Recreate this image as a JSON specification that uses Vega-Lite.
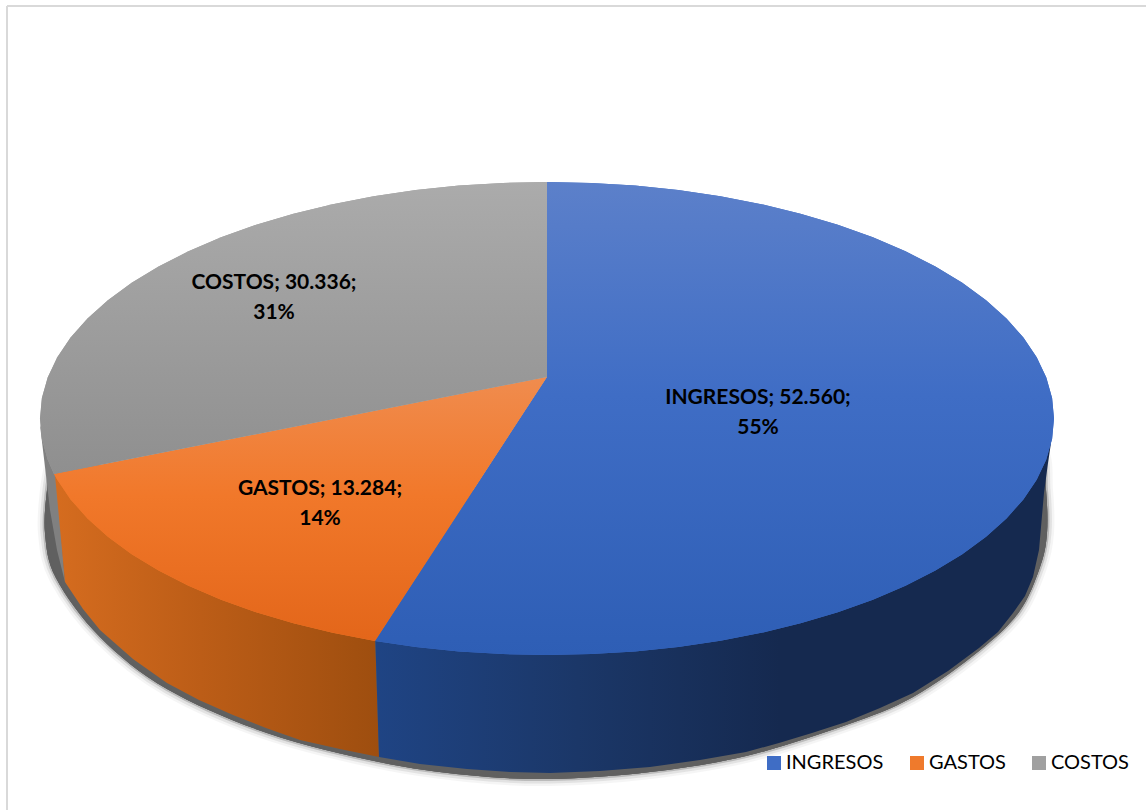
{"$schema":"https://vega.github.io/schema/vega-lite/v6.json","width":1146,"height":810,"padding":0,"autosize":{"type":"none"},"background":"white","config":{"view":{"stroke":null}},
"datasets":{
"cara":[
{"categoria":"INGRESOS","orden":1,"x":547,"y":377},{"categoria":"INGRESOS","orden":2,"x":547,"y":182},{"categoria":"INGRESOS","orden":3,"x":591.2,"y":182.9},{"categoria":"INGRESOS","orden":4,"x":635,"y":185.6},{"categoria":"INGRESOS","orden":5,"x":678.2,"y":190.1},{"categoria":"INGRESOS","orden":6,"x":720.4,"y":196.3},{"categoria":"INGRESOS","orden":7,"x":761.3,"y":204.2},{"categoria":"INGRESOS","orden":8,"x":800.5,"y":213.7},{"categoria":"INGRESOS","orden":9,"x":837.8,"y":224.8},{"categoria":"INGRESOS","orden":10,"x":872.9,"y":237.3},{"categoria":"INGRESOS","orden":11,"x":905.5,"y":251.3},{"categoria":"INGRESOS","orden":12,"x":935.4,"y":266.5},{"categoria":"INGRESOS","orden":13,"x":962.3,"y":282.8},{"categoria":"INGRESOS","orden":14,"x":986.1,"y":300.2},{"categoria":"INGRESOS","orden":15,"x":1006.5,"y":318.6},{"categoria":"INGRESOS","orden":16,"x":1023.4,"y":337.6},{"categoria":"INGRESOS","orden":17,"x":1036.7,"y":357.3},{"categoria":"INGRESOS","orden":18,"x":1046.3,"y":377.4},{"categoria":"INGRESOS","orden":19,"x":1052.1,"y":397.9},{"categoria":"INGRESOS","orden":20,"x":1054,"y":418.5},{"categoria":"INGRESOS","orden":21,"x":1052.1,"y":439.1},{"categoria":"INGRESOS","orden":22,"x":1046.3,"y":459.6},{"categoria":"INGRESOS","orden":23,"x":1036.7,"y":479.7},{"categoria":"INGRESOS","orden":24,"x":1023.4,"y":499.4},{"categoria":"INGRESOS","orden":25,"x":1006.5,"y":518.4},{"categoria":"INGRESOS","orden":26,"x":986.1,"y":536.8},{"categoria":"INGRESOS","orden":27,"x":962.3,"y":554.2},{"categoria":"INGRESOS","orden":28,"x":935.4,"y":570.5},{"categoria":"INGRESOS","orden":29,"x":905.5,"y":585.7},{"categoria":"INGRESOS","orden":30,"x":872.9,"y":599.7},{"categoria":"INGRESOS","orden":31,"x":837.8,"y":612.2},{"categoria":"INGRESOS","orden":32,"x":800.5,"y":623.3},{"categoria":"INGRESOS","orden":33,"x":761.3,"y":632.8},{"categoria":"INGRESOS","orden":34,"x":720.4,"y":640.7},{"categoria":"INGRESOS","orden":35,"x":678.2,"y":646.9},{"categoria":"INGRESOS","orden":36,"x":635,"y":651.4},{"categoria":"INGRESOS","orden":37,"x":591.2,"y":654.1},{"categoria":"INGRESOS","orden":38,"x":547,"y":655},{"categoria":"INGRESOS","orden":39,"x":502.8,"y":654.1},{"categoria":"INGRESOS","orden":40,"x":459,"y":651.4},{"categoria":"INGRESOS","orden":41,"x":415.8,"y":646.9},{"categoria":"INGRESOS","orden":42,"x":375,"y":641},
{"categoria":"GASTOS","orden":1,"x":547,"y":377},{"categoria":"GASTOS","orden":2,"x":375,"y":641},{"categoria":"GASTOS","orden":3,"x":332.7,"y":632.8},{"categoria":"GASTOS","orden":4,"x":293.5,"y":623.3},{"categoria":"GASTOS","orden":5,"x":256.2,"y":612.2},{"categoria":"GASTOS","orden":6,"x":221.1,"y":599.7},{"categoria":"GASTOS","orden":7,"x":188.5,"y":585.7},{"categoria":"GASTOS","orden":8,"x":158.6,"y":570.5},{"categoria":"GASTOS","orden":9,"x":131.7,"y":554.2},{"categoria":"GASTOS","orden":10,"x":107.9,"y":536.8},{"categoria":"GASTOS","orden":11,"x":87.5,"y":518.4},{"categoria":"GASTOS","orden":12,"x":70.6,"y":499.4},{"categoria":"GASTOS","orden":13,"x":57.3,"y":479.7},{"categoria":"GASTOS","orden":14,"x":54,"y":474},
{"categoria":"COSTOS","orden":1,"x":547,"y":377},{"categoria":"COSTOS","orden":2,"x":54,"y":474},{"categoria":"COSTOS","orden":3,"x":47.7,"y":459.6},{"categoria":"COSTOS","orden":4,"x":41.9,"y":439.1},{"categoria":"COSTOS","orden":5,"x":40,"y":418.5},{"categoria":"COSTOS","orden":6,"x":41.9,"y":397.9},{"categoria":"COSTOS","orden":7,"x":47.7,"y":377.4},{"categoria":"COSTOS","orden":8,"x":57.3,"y":357.3},{"categoria":"COSTOS","orden":9,"x":70.6,"y":337.6},{"categoria":"COSTOS","orden":10,"x":87.5,"y":318.6},{"categoria":"COSTOS","orden":11,"x":107.9,"y":300.2},{"categoria":"COSTOS","orden":12,"x":131.7,"y":282.8},{"categoria":"COSTOS","orden":13,"x":158.6,"y":266.5},{"categoria":"COSTOS","orden":14,"x":188.5,"y":251.3},{"categoria":"COSTOS","orden":15,"x":221.1,"y":237.3},{"categoria":"COSTOS","orden":16,"x":256.2,"y":224.8},{"categoria":"COSTOS","orden":17,"x":293.5,"y":213.7},{"categoria":"COSTOS","orden":18,"x":332.7,"y":204.2},{"categoria":"COSTOS","orden":19,"x":373.6,"y":196.3},{"categoria":"COSTOS","orden":20,"x":415.8,"y":190.1},{"categoria":"COSTOS","orden":21,"x":459,"y":185.6},{"categoria":"COSTOS","orden":22,"x":502.8,"y":182.9},{"categoria":"COSTOS","orden":23,"x":547,"y":182}],
"lado":[
{"categoria":"INGRESOS","orden":1,"x":375,"y":630},{"categoria":"INGRESOS","orden":2,"x":800,"y":600},{"categoria":"INGRESOS","orden":3,"x":1040,"y":430},{"categoria":"INGRESOS","orden":4,"x":1051,"y":443},{"categoria":"INGRESOS","orden":5,"x":1048,"y":463},{"categoria":"INGRESOS","orden":6,"x":1044,"y":493},{"categoria":"INGRESOS","orden":7,"x":1039,"y":550},{"categoria":"INGRESOS","orden":8,"x":1033,"y":577},{"categoria":"INGRESOS","orden":9,"x":1025,"y":596},{"categoria":"INGRESOS","orden":10,"x":1013,"y":613},{"categoria":"INGRESOS","orden":11,"x":998,"y":632},{"categoria":"INGRESOS","orden":12,"x":979,"y":648},{"categoria":"INGRESOS","orden":13,"x":948,"y":671},{"categoria":"INGRESOS","orden":14,"x":913,"y":693},{"categoria":"INGRESOS","orden":15,"x":880,"y":708},{"categoria":"INGRESOS","orden":16,"x":846,"y":722},{"categoria":"INGRESOS","orden":17,"x":812,"y":733},{"categoria":"INGRESOS","orden":18,"x":779,"y":743},{"categoria":"INGRESOS","orden":19,"x":746,"y":752},{"categoria":"INGRESOS","orden":20,"x":700,"y":760},{"categoria":"INGRESOS","orden":21,"x":650,"y":767},{"categoria":"INGRESOS","orden":22,"x":600,"y":771},{"categoria":"INGRESOS","orden":23,"x":550,"y":773},{"categoria":"INGRESOS","orden":24,"x":510,"y":772},{"categoria":"INGRESOS","orden":25,"x":467,"y":769},{"categoria":"INGRESOS","orden":26,"x":420,"y":764},{"categoria":"INGRESOS","orden":27,"x":379,"y":757},
{"categoria":"GASTOS","orden":1,"x":55,"y":475},{"categoria":"GASTOS","orden":2,"x":375,"y":635},{"categoria":"GASTOS","orden":3,"x":379,"y":757},{"categoria":"GASTOS","orden":4,"x":340,"y":749},{"categoria":"GASTOS","orden":5,"x":300,"y":740},{"categoria":"GASTOS","orden":6,"x":266,"y":728},{"categoria":"GASTOS","orden":7,"x":233,"y":715},{"categoria":"GASTOS","orden":8,"x":199,"y":700},{"categoria":"GASTOS","orden":9,"x":167,"y":683},{"categoria":"GASTOS","orden":10,"x":133,"y":659},{"categoria":"GASTOS","orden":11,"x":100,"y":630},{"categoria":"GASTOS","orden":12,"x":83,"y":609},{"categoria":"GASTOS","orden":13,"x":65,"y":582},
{"categoria":"COSTOS","orden":1,"x":40,"y":425},{"categoria":"COSTOS","orden":2,"x":56,"y":470},{"categoria":"COSTOS","orden":3,"x":65,"y":582},{"categoria":"COSTOS","orden":4,"x":57,"y":550},{"categoria":"COSTOS","orden":5,"x":50,"y":510},{"categoria":"COSTOS","orden":6,"x":45,"y":467}],
"sombra":[
{"orden":0,"x":52,"y":462},{"orden":1,"x":47,"y":490},{"orden":2,"x":45,"y":533},{"orden":3,"x":56,"y":578},{"orden":4,"x":100,"y":637},{"orden":5,"x":167,"y":689},{"orden":6,"x":267,"y":733},{"orden":7,"x":379,"y":762},{"orden":8,"x":467,"y":775},{"orden":9,"x":550,"y":779},{"orden":10,"x":650,"y":772},{"orden":11,"x":746,"y":756},{"orden":12,"x":846,"y":725},{"orden":13,"x":913,"y":697},{"orden":14,"x":979,"y":651},{"orden":15,"x":1019,"y":612},{"orden":16,"x":1040,"y":567},{"orden":17,"x":1047,"y":533},{"orden":18,"x":1046,"y":490},{"orden":19,"x":1040,"y":450},{"orden":20,"x":1000,"y":440},{"orden":21,"x":600,"y":500}],
"etiquetas":[
{"categoria":"INGRESOS","valor":52560,"etiqueta":"INGRESOS; 52.560;","porcentaje":"55%","x":758,"y1":398,"y2":428},
{"categoria":"GASTOS","valor":13284,"etiqueta":"GASTOS; 13.284;","porcentaje":"14%","x":320,"y1":489,"y2":519},
{"categoria":"COSTOS","valor":30336,"etiqueta":"COSTOS; 30.336;","porcentaje":"31%","x":274,"y1":283,"y2":313}],
"marco":[{"x":7,"y":6,"x2":1146,"y2":6},{"x":7,"y":6,"x2":7,"y2":810}]
},
"encoding":{
"x":{"field":"x","type":"quantitative","scale":{"domain":[0,1146],"nice":false,"zero":false},"axis":null},
"y":{"field":"y","type":"quantitative","scale":{"domain":[810,0],"nice":false,"zero":false},"axis":null}},
"layer":[
{"data":{"name":"marco"},"mark":{"type":"rule","stroke":"#d9d9d9","strokeWidth":2},"encoding":{"x2":{"field":"x2"},"y2":{"field":"y2"}}},
{"data":{"name":"sombra"},"mark":{"type":"line","interpolate":"cardinal","fill":"#606060","stroke":"#808080","strokeWidth":14,"strokeOpacity":0.08,"strokeJoin":"round"},"encoding":{"order":{"field":"orden"}}},
{"data":{"name":"sombra"},"mark":{"type":"line","interpolate":"cardinal","fill":"#606060","stroke":"#707070","strokeWidth":9,"strokeOpacity":0.14,"strokeJoin":"round"},"encoding":{"order":{"field":"orden"}}},
{"data":{"name":"sombra"},"mark":{"type":"line","interpolate":"cardinal","fill":"#606060","stroke":"#606060","strokeWidth":4,"strokeOpacity":0.3,"strokeJoin":"round"},"encoding":{"order":{"field":"orden"}}},
{"data":{"name":"lado"},"transform":[{"filter":"datum.categoria==='COSTOS'"}],"mark":{"type":"line","strokeWidth":0,"fill":"#808080"},"encoding":{"order":{"field":"orden"}}},
{"data":{"name":"lado"},"transform":[{"filter":"datum.categoria==='GASTOS'"}],"mark":{"type":"line","strokeWidth":0,"fill":{"gradient":"linear","x1":0,"y1":0,"x2":1,"y2":0,"stops":[{"offset":0,"color":"#d56c1f"},{"offset":0.45,"color":"#bc5d17"},{"offset":1,"color":"#9e4e0f"}]}},"encoding":{"order":{"field":"orden"}}},
{"data":{"name":"lado"},"transform":[{"filter":"datum.categoria==='INGRESOS'"}],"mark":{"type":"line","strokeWidth":0,"fill":{"gradient":"linear","x1":0,"y1":0,"x2":1,"y2":0,"stops":[{"offset":0,"color":"#1f4484"},{"offset":0.3,"color":"#1b3768"},{"offset":0.6,"color":"#15294f"},{"offset":1,"color":"#15294f"}]}},"encoding":{"order":{"field":"orden"}}},
{"data":{"name":"cara"},"mark":{"type":"line","strokeWidth":0},"encoding":{"order":{"field":"orden"},
"fill":{"field":"categoria","type":"nominal","title":null,"scale":{"domain":["INGRESOS","GASTOS","COSTOS"],"range":["#3f6dc5","#ef7a2c","#a0a0a0"]},
"legend":{"orient":"none","legendX":764,"legendY":753,"direction":"horizontal","columns":3,"symbolType":"square","symbolSize":196,"symbolStrokeWidth":0,"labelFont":"Lato","labelFontSize":20,"labelColor":"#000000","labelOffset":2,"columnPadding":23,"labelLimit":200}}}},
{"data":{"name":"cara"},"transform":[{"filter":"datum.categoria==='INGRESOS'"}],"mark":{"type":"line","strokeWidth":0,"fill":{"gradient":"linear","x1":0,"y1":0,"x2":0,"y2":1,"stops":[{"offset":0,"color":"#5c80ca"},{"offset":0.45,"color":"#3f6dc5"},{"offset":1,"color":"#2e5eb5"}]}},"encoding":{"order":{"field":"orden"}}},
{"data":{"name":"cara"},"transform":[{"filter":"datum.categoria==='GASTOS'"}],"mark":{"type":"line","strokeWidth":0,"fill":{"gradient":"linear","x1":0,"y1":0,"x2":0,"y2":1,"stops":[{"offset":0,"color":"#f08c4e"},{"offset":0.45,"color":"#f1782a"},{"offset":1,"color":"#e3661a"}]}},"encoding":{"order":{"field":"orden"}}},
{"data":{"name":"cara"},"transform":[{"filter":"datum.categoria==='COSTOS'"}],"mark":{"type":"line","strokeWidth":0,"fill":{"gradient":"linear","x1":0,"y1":0,"x2":0,"y2":1,"stops":[{"offset":0,"color":"#ababab"},{"offset":1,"color":"#8f8f8f"}]}},"encoding":{"order":{"field":"orden"}}},
{"data":{"name":"etiquetas"},"mark":{"type":"text","font":"Lato","fontWeight":"bold","fontSize":21,"color":"#000000","baseline":"middle"},"encoding":{"y":{"field":"y1"},"text":{"field":"etiqueta"}}},
{"data":{"name":"etiquetas"},"mark":{"type":"text","font":"Lato","fontWeight":"bold","fontSize":21,"color":"#000000","baseline":"middle"},"encoding":{"y":{"field":"y2"},"text":{"field":"porcentaje"}}}
]}
